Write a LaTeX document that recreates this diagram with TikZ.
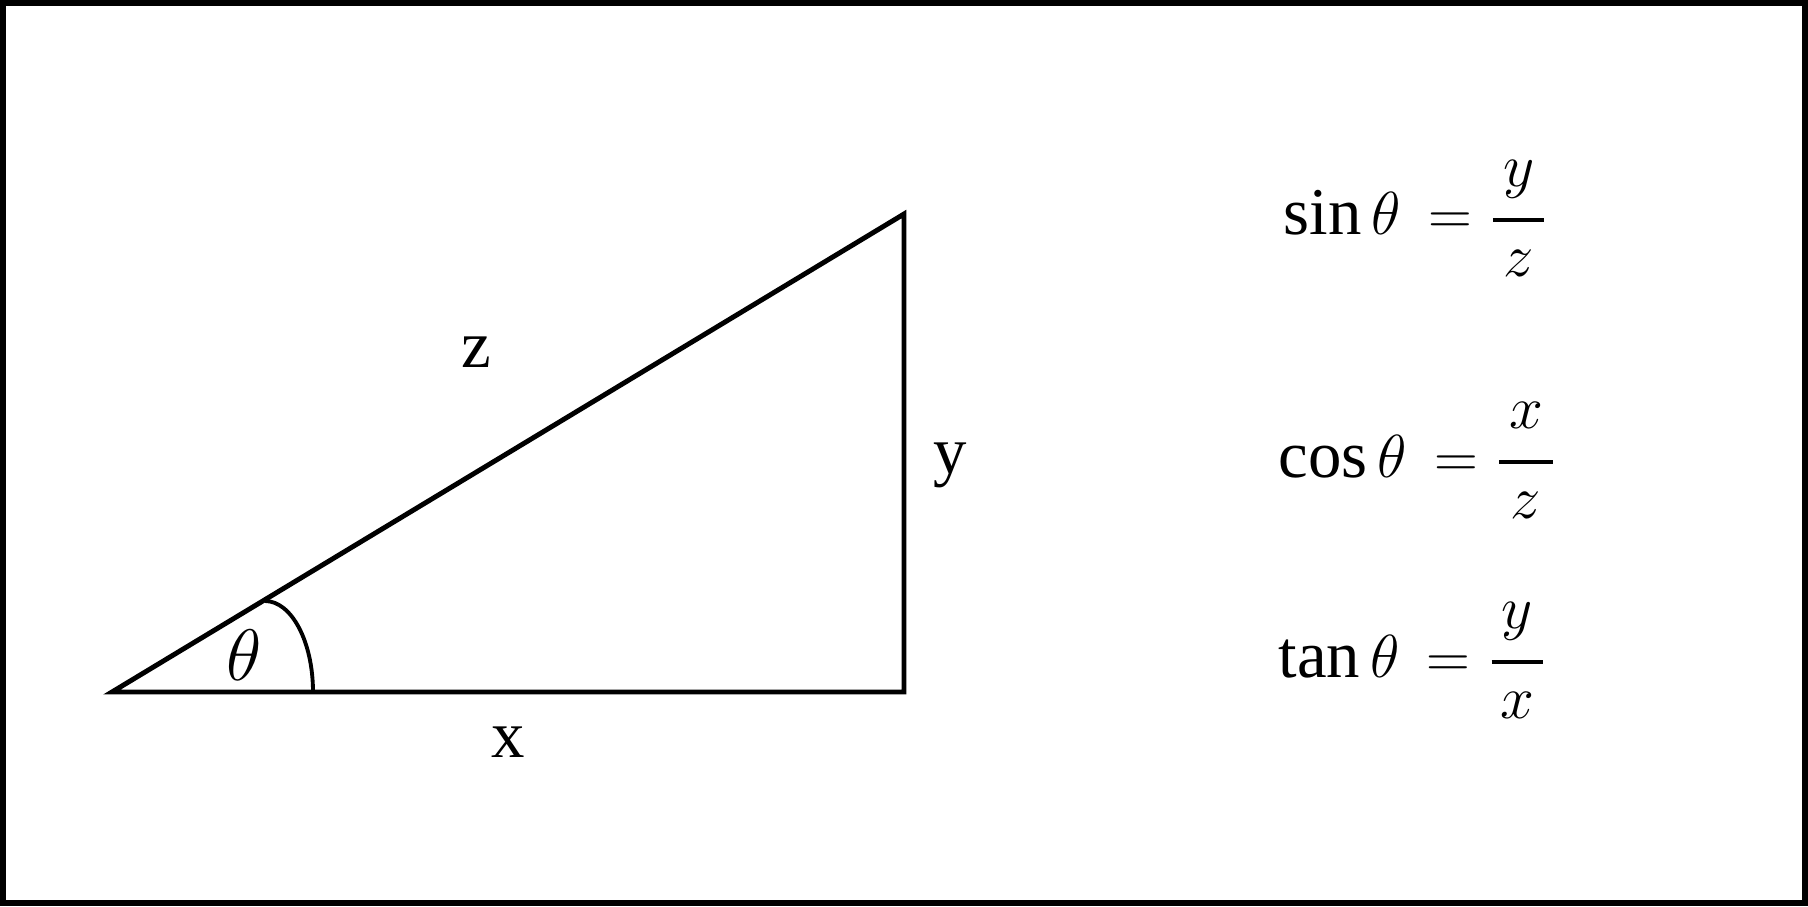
\documentclass[tikz,border=0pt]{standalone}
\usepackage{amsmath}
\usepackage{fontspec}
\setmainfont{Liberation Serif}
\newcommand{\ratio}[2]{\genfrac{}{}{1.1pt}{0}{\,\raisebox{2pt}{$#1$}\,}{#2}}

\begin{document}
\begin{tikzpicture}[line join=miter,
    side/.style={font=\fontsize{19}{23}\selectfont, anchor=base},
    trig/.style={font=\fontsize{19}{23}\selectfont, anchor=base west, inner sep=0pt}]
\useasboundingbox (0,0) rectangle (18.08,9.06);
\draw [line width=1.7pt] (0.03,0.03) rectangle (18.05,9.03);

\coordinate (A) at (1.12,2.14);
\coordinate (B) at (9.04,2.14);
\coordinate (C) at (9.04,6.92);
\draw [line width=1.4pt] (A) -- (B) -- (C) -- cycle;
\draw [line width=1.1pt] (A) ++ (2.01,0) arc [start angle=0, end angle=90, x radius=0.48, y radius=0.91];

\node [side] (lz) at (4.76,5.39) {z};
\node [side] (ly) at (9.50,4.33) {y};
\node [side] (lx) at (5.08,1.49) {x};
\node [side, font=\fontsize{21}{25}\selectfont] (lt) at (2.44,2.26) {$\theta$};

\node [trig] (sin) at (12.83,6.71) {$\sin\theta\,=\ratio{y}{z}$};
\node [trig] (cos) at (12.78,4.29) {$\cos\theta\,=\ratio{x}{z}$};
\node [trig] (tan) at (12.78,2.29) {$\tan\theta\,=\ratio{y}{x}$};
\end{tikzpicture}
\end{document}
